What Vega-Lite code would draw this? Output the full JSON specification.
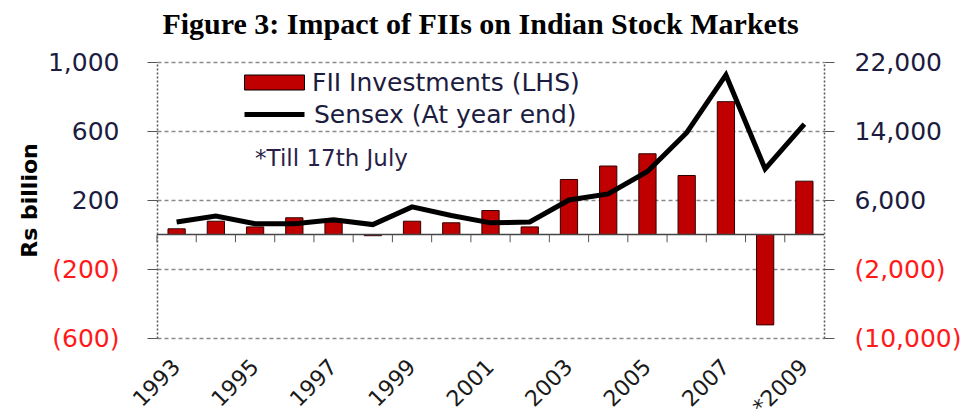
{
  "$schema": "https://vega.github.io/schema/vega-lite/v6.json",
  "width": 667,
  "height": 276,
  "autosize": {"type": "none"},
  "padding": {"left": 157, "top": 62, "right": 144, "bottom": 81},
  "background": "white",
  "title": {"text": "Figure 3: Impact of FIIs on Indian Stock Markets", "font": "Liberation Serif", "fontSize": 30, "fontWeight": "bold", "color": "#000000", "anchor": "middle", "offset": 10, "dx": -10},
  "data": {"values": [
    {"Year": "1993", "FII": 33, "Sensex": 3450},
    {"Year": "1994", "FII": 77, "Sensex": 4150},
    {"Year": "1995", "FII": 44, "Sensex": 3250},
    {"Year": "1996", "FII": 97, "Sensex": 3250},
    {"Year": "1997", "FII": 73, "Sensex": 3700},
    {"Year": "1998", "FII": -7, "Sensex": 3150},
    {"Year": "1999", "FII": 77, "Sensex": 5200},
    {"Year": "2000", "FII": 68, "Sensex": 4200},
    {"Year": "2001", "FII": 139, "Sensex": 3350},
    {"Year": "2002", "FII": 44, "Sensex": 3450},
    {"Year": "2003", "FII": 319, "Sensex": 6000},
    {"Year": "2004", "FII": 397, "Sensex": 6700},
    {"Year": "2005", "FII": 468, "Sensex": 9300},
    {"Year": "2006", "FII": 342, "Sensex": 13800},
    {"Year": "2007", "FII": 770, "Sensex": 20500},
    {"Year": "2008", "FII": -524, "Sensex": 9600},
    {"Year": "2009", "FII": 309, "Sensex": 14800}
  ]},
  "config": {"view": {"stroke": null}},
  "layer": [
    {
      "layer": [
        {
          "mark": {"type": "bar", "stroke": "#300000", "strokeWidth": 1},
          "encoding": {
            "x": {"field": "Year", "type": "ordinal", "scale": {"paddingInner": 0.56, "paddingOuter": 0.28},
              "axis": {"orient": "bottom", "title": null, "domain": false, "ticks": false, "labelAngle": -45, "labelAlign": "right", "labelBaseline": "middle", "labelPadding": 25, "labelFont": "DejaVu Sans", "labelFontSize": 22, "labelColor": "#1a1a1a", "labelOverlap": false,
                "labelExpr": "datum.value == '2009' ? '*2009' : (toNumber(datum.value) % 2 == 1 ? datum.value : '')"}},
            "y": {"field": "FII", "type": "quantitative", "scale": {"domain": [-600, 1000], "nice": false, "zero": false},
              "axis": {"values": [-600, -200, 200, 600, 1000], "title": "Rs billion", "titleFont": "DejaVu Sans", "titleFontSize": 22, "titleFontWeight": "bold", "titleColor": "#000000", "titlePadding": 6,
                "grid": true, "gridDash": [4, 3], "gridColor": "#8a8a8a", "gridWidth": 1.3,
                "domainDash": [2, 2], "domainColor": "#555555", "domainWidth": 1.5, "tickSize": 10, "tickColor": "#555555",
                "labelPadding": 28, "labelFont": "DejaVu Sans", "labelFontSize": 25,
                "labelExpr": "datum.value < 0 ? '(' + format(-datum.value, ',') + ')' : format(datum.value, ',')",
                "labelColor": {"condition": {"test": "datum.value < 0", "value": "#ff1a1a"}, "value": "#1c1c40"}}},
            "fill": {"datum": "FII Investments (LHS)", "type": "nominal", "scale": {"range": ["#C00000"]},
              "legend": {"orient": "none", "legendX": 87, "legendY": -10, "title": null, "symbolType": "M-1,-0.25H1V0.25H-1Z", "symbolSize": 3600, "symbolStrokeColor": "#000000", "symbolStrokeWidth": 1, "symbolOpacity": 1, "labelFont": "DejaVu Sans", "labelFontSize": 25, "labelColor": "#1c1c40", "labelOffset": 7, "padding": 0, "labelLimit": 400}}
          }
        },
        {"data": {"values": [{"v": 0}]}, "mark": {"type": "rule", "color": "#444444", "strokeWidth": 1.5}, "encoding": {"y": {"field": "v", "type": "quantitative"}}},
        {"mark": {"type": "rule", "color": "#555555", "strokeWidth": 1},
          "encoding": {"x": {"field": "Year", "type": "ordinal", "bandPosition": -0.636}, "y": {"datum": 0}, "y2": {"datum": -45}}},
        {"data": {"values": [{"note": "*Till 17th July"}]}, "mark": {"type": "text", "align": "left", "baseline": "middle", "font": "DejaVu Sans", "fontSize": 23, "color": "#2a1f48"},
          "encoding": {"x": {"datum": "1995", "type": "ordinal"}, "y": {"datum": 440}, "text": {"field": "note"}}}
      ]
    },
    {
      "mark": {"type": "line", "color": "#000000", "strokeWidth": 5},
      "encoding": {
        "x": {"field": "Year", "type": "ordinal"},
        "y": {"field": "Sensex", "type": "quantitative", "scale": {"domain": [-10000, 22000], "nice": false, "zero": false},
          "axis": {"orient": "right", "values": [-10000, -2000, 6000, 14000, 22000], "title": null, "grid": false,
            "domainDash": [2, 2], "domainColor": "#555555", "domainWidth": 1.5, "tickSize": 10, "tickColor": "#555555",
            "labelPadding": 20, "labelFont": "DejaVu Sans", "labelFontSize": 25,
            "labelExpr": "datum.value < 0 ? '(' + format(-datum.value, ',') + ')' : format(datum.value, ',')",
            "labelColor": {"condition": {"test": "datum.value < 0", "value": "#ff1a1a"}, "value": "#1c1c40"}}},
        "stroke": {"datum": "Sensex (At year end)", "type": "nominal", "scale": {"range": ["#000000"]},
          "legend": {"orient": "none", "legendX": 85, "legendY": 20, "title": null, "symbolSize": 3600, "symbolStrokeWidth": 5, "labelFont": "DejaVu Sans", "labelFontSize": 25, "labelColor": "#1c1c40", "labelOffset": 7, "padding": 0, "labelLimit": 400}}
      }
    }
  ],
  "resolve": {"scale": {"y": "independent"}}
}
